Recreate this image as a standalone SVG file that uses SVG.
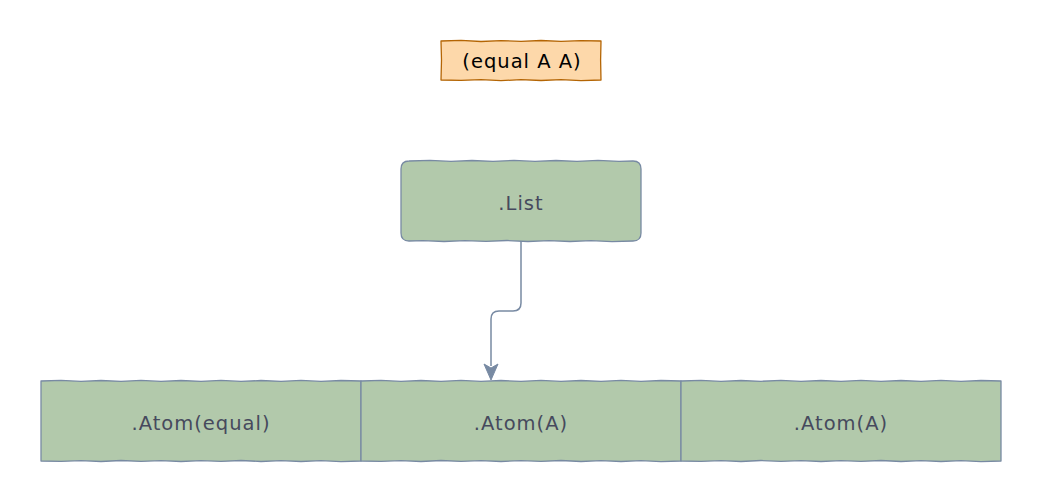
<svg xmlns="http://www.w3.org/2000/svg" width="1042" height="502" viewBox="0 0 1042 502">
<defs>
<style>
.g{fill:#b2c9ab;stroke:#788aa3;stroke-width:1.3;stroke-linejoin:round}
.o{fill:#fdd8aa;stroke:#b46504;stroke-width:1.3;stroke-linejoin:round}
.t{font-family:"DejaVu Sans",sans-serif;font-size:19.5px;letter-spacing:1px;fill:#46495d;text-anchor:middle;dominant-baseline:central}
.k{fill:#000}
.c{fill:none;stroke:#788aa3;stroke-width:1.5}
</style>
</defs>
<rect width="1042" height="502" fill="#fff"/>
<g id="title">
<path class="o" d="M441 41 L461 40.3 L481 41.5 L501 40.6 L521 41.4 L541 40.5 L561 41.3 L581 40.6 L601 41 L600.6 60 L601 80 L581 80.7 L561 79.6 L541 80.5 L521 79.7 L501 80.6 L481 79.6 L461 80.4 L441 80 L441.5 60 Z"/>
<text class="t k" x="522" y="61">(equal A A)</text>
</g>
<g id="list">
<path class="g" d="M409 161 L430 160.3 L451 161.4 L472 160.5 L493 161.3 L514 160.4 L535 161.4 L556 160.5 L577 161.3 L598 160.4 L619 161.3 L633 161 Q641 161 641 169 L641 233 Q641 241 633 241 L612 241.7 L591 240.6 L570 241.5 L549 240.6 L528 241.5 L507 240.5 L486 241.4 L465 240.6 L444 241.5 L423 240.6 L409 241 Q401 241 401 233 L401 169 Q401 161 409 161 Z"/>
<text class="t" x="521" y="203">.List</text>
</g>
<g id="atom1">
<path class="g" d="M41 381 L61 380.3 L81 381.4 L101 380.5 L121 381.3 L141 380.4 L161 381.4 L181 380.5 L201 381.3 L221 380.4 L241 381.4 L261 380.5 L281 381.3 L301 380.4 L321 381.4 L341 380.5 L361 381 L361 461 L341 461.7 L321 460.6 L301 461.5 L281 460.6 L261 461.5 L241 460.5 L221 461.4 L201 460.6 L181 461.5 L161 460.6 L141 461.4 L121 460.5 L101 461.5 L81 460.6 L61 461.4 L41 461 Z"/>
<text class="t" x="201" y="423">.Atom(equal)</text>
</g>
<g id="atom2">
<path class="g" d="M361 381 L381 380.3 L401 381.4 L421 380.5 L441 381.3 L461 380.4 L481 381.4 L501 380.5 L521 381.3 L541 380.4 L561 381.4 L581 380.5 L601 381.3 L621 380.4 L641 381.4 L661 380.5 L681 381 L681 461 L661 461.7 L641 460.6 L621 461.5 L601 460.6 L581 461.5 L561 460.5 L541 461.4 L521 460.6 L501 461.5 L481 460.6 L461 461.4 L441 460.5 L421 461.5 L401 460.6 L381 461.4 L361 461 Z"/>
<text class="t" x="521" y="423">.Atom(A)</text>
</g>
<g id="atom3">
<path class="g" d="M681 381 L701 380.3 L721 381.4 L741 380.5 L761 381.3 L781 380.4 L801 381.4 L821 380.5 L841 381.3 L861 380.4 L881 381.4 L901 380.5 L921 381.3 L941 380.4 L961 381.4 L981 380.5 L1001 381 L1001 461 L981 461.7 L961 460.6 L941 461.5 L921 460.6 L901 461.5 L881 460.5 L861 461.4 L841 460.6 L821 461.5 L801 460.6 L781 461.4 L761 460.5 L741 461.5 L721 460.6 L701 461.4 L681 461 Z"/>
<text class="t" x="841" y="423">.Atom(A)</text>
</g>
<g id="connectors">
<path class="c" d="M521 241 V303 Q521 311 513 311 H499 Q491 311 491 319 V366"/>
<path d="M484 364 L491 368 L498 364 L491 380 Z" fill="#788aa3" stroke="#788aa3" stroke-linejoin="round"/>
</g>
</svg>
